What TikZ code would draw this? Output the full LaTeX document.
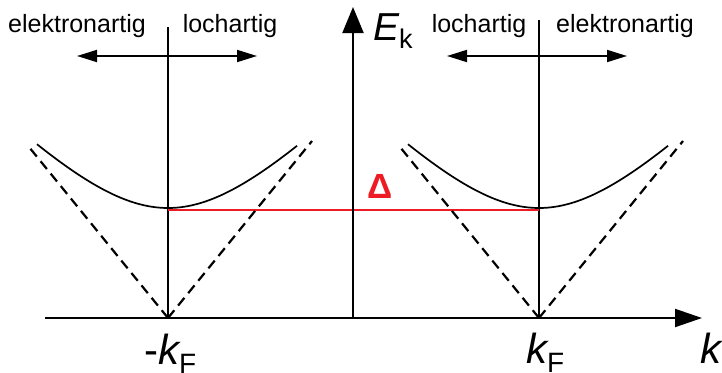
\documentclass[tikz,border=0pt]{standalone}
\usepackage{fontspec}
\setmainfont{Liberation Sans}
\usetikzlibrary{arrows.meta}
\definecolor{deltared}{RGB}{237,28,36}
\begin{document}
\begin{tikzpicture}[x=1pt,y=-1pt,
  axisline/.style={line width=2pt, -{Triangle[length=27pt,width=18pt]}},
  guide/.style={line width=1.6pt},
  band/.style={line width=1.7pt},
  asym/.style={line width=2.2pt, dash pattern=on 10pt off 6pt},
  dirarrow/.style={line width=1.8pt, {Triangle[length=20pt,width=12pt]}-{Triangle[length=20pt,width=12pt]}},
  lbl/.style={font=\fontsize{25}{30}\selectfont, anchor=base, inner sep=0pt},
]
\useasboundingbox (0,0) rectangle (722,372);
% coordinates
\coordinate (O) at (45,318);
\coordinate (kend) at (702,318);
\coordinate (Ebot) at (353,318);
\coordinate (Etop) at (353,7);
\coordinate (mkF) at (168,318);
\coordinate (kF) at (539,318);
\coordinate (mkFtop) at (168,27);
\coordinate (kFtop) at (539,20);
\coordinate (gapL) at (168,209.5);
\coordinate (gapR) at (539,209.5);
\coordinate (la1) at (77,56);
\coordinate (la2) at (257,56);
\coordinate (ra1) at (447,56);
\coordinate (ra2) at (627,56);
\coordinate (ld1) at (29,147);
\coordinate (ld2) at (312,141);
\coordinate (rd1) at (400,147);
\coordinate (rd2) at (683,141);
% vertical guide lines
\draw[guide] (mkF) -- (mkFtop);
\draw[guide] (kF) -- (kFtop);
% gap line
\draw[deltared, line width=2pt] (gapL) -- (gapR);
% axes
\draw[axisline] (O) -- (kend);
\draw[line width=2pt, -{Triangle[length=26pt,width=21pt]}] (Ebot) -- (Etop);
% direction arrows
\draw[dirarrow] (la1) -- (la2);
\draw[dirarrow] (ra1) -- (ra2);
% asymptotes
\draw[asym] (mkF) -- (ld1);
\draw[asym] (mkF) -- (ld2);
\draw[asym] (kF) -- (rd1);
\draw[asym] (kF) -- (rd2);
% bands
\draw[band] plot[domain=-131:129, samples=70, smooth] ({168+\x},{318-100*sqrt((0.01027*\x)^2+1.21)});
\draw[band] plot[domain=-131:129, samples=70, smooth] ({539+\x},{318-100*sqrt((0.01027*\x)^2+1.21)});
% labels
\node[lbl] (el1) at (77,32) {elektronartig};
\node[lbl] (lo1) at (230,32) {lochartig};
\node[lbl] (lo2) at (479,32) {lochartig};
\node[lbl] (el2) at (625,32) {elektronartig};
\node[anchor=base west, inner sep=0pt] (Ek) at (373,40)
  {\fontsize{39}{40}\selectfont\itshape E\upshape\fontsize{27}{30}\selectfont\raisebox{-8pt}{k}};
\node[anchor=base west, inner sep=0pt] (mkFl) at (144,364)
  {\fontsize{42}{44}\selectfont -\itshape k\upshape\fontsize{28}{30}\selectfont\raisebox{-9pt}{F}};
\node[anchor=base west, inner sep=0pt] (kFl) at (526,363)
  {\fontsize{42}{44}\selectfont\itshape k\upshape\fontsize{28}{30}\selectfont\raisebox{-9pt}{F}};
\node[anchor=base west, inner sep=0pt] (kl) at (700,363)
  {\fontsize{42}{44}\selectfont\itshape k};
\node[anchor=base, inner sep=0pt, text=deltared, font=\fontsize{35}{36}\selectfont\bfseries] (delta) at (380,198) {Δ};
\end{tikzpicture}
\end{document}
